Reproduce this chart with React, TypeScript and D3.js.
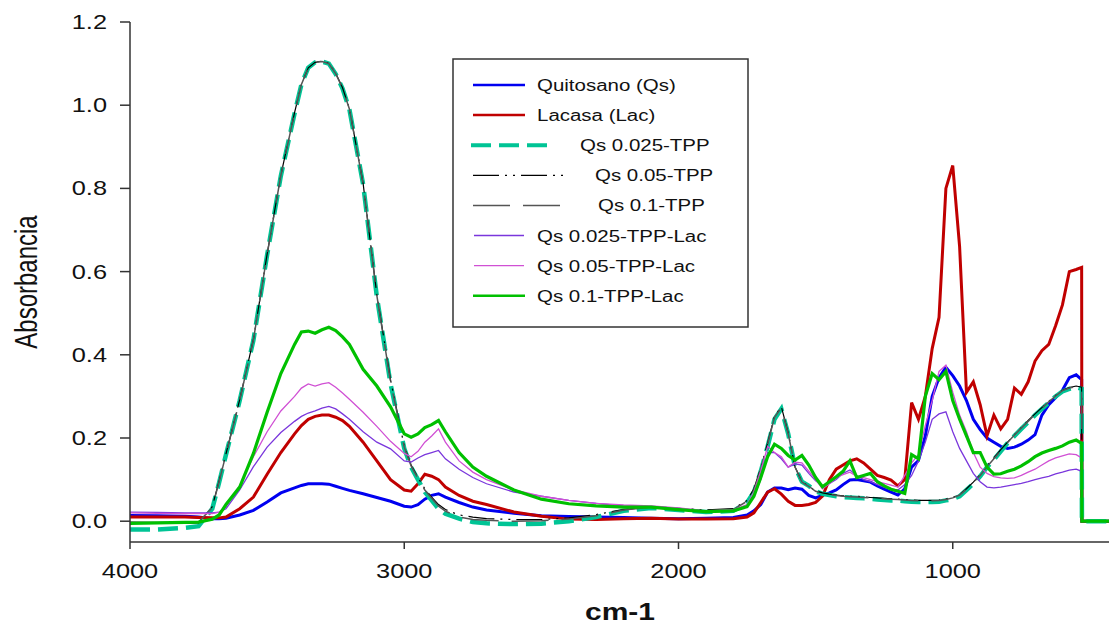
import React from "react";
import * as d3 from "d3";

const wavenumbers = [4000, 3900, 3800, 3750, 3700, 3675, 3650, 3600, 3550, 3500, 3450, 3400, 3375, 3350, 3325, 3300, 3275, 3250, 3225, 3200, 3150, 3100, 3050, 3000, 2975, 2950, 2925, 2900, 2875, 2850, 2800, 2750, 2700, 2600, 2500, 2400, 2300, 2200, 2100, 2000, 1900, 1800, 1750, 1725, 1700, 1675, 1650, 1625, 1600, 1575, 1550, 1525, 1500, 1475, 1450, 1425, 1400, 1375, 1350, 1325, 1300, 1275, 1250, 1225, 1200, 1175, 1150, 1125, 1100, 1075, 1050, 1025, 1000, 975, 950, 925, 900, 875, 850, 825, 800, 775, 750, 725, 700, 675, 650, 625, 600, 575, 550, 530, 529, 400];

const quitosano = [0.014, 0.013, 0.012, 0.01, 0.006, 0.006, 0.007, 0.015, 0.026, 0.046, 0.068, 0.08, 0.086, 0.09, 0.09, 0.09, 0.089, 0.084, 0.079, 0.074, 0.066, 0.057, 0.048, 0.036, 0.034, 0.04, 0.053, 0.062, 0.066, 0.058, 0.045, 0.034, 0.027, 0.019, 0.013, 0.011, 0.01, 0.009, 0.007, 0.006, 0.007, 0.009, 0.015, 0.025, 0.04, 0.07, 0.08, 0.08, 0.076, 0.08, 0.077, 0.062, 0.056, 0.062, 0.068, 0.075, 0.088, 0.099, 0.1, 0.097, 0.094, 0.085, 0.077, 0.07, 0.063, 0.078, 0.13, 0.146, 0.205, 0.3, 0.345, 0.37, 0.35, 0.325, 0.29, 0.245, 0.22, 0.2, 0.19, 0.18, 0.175, 0.178, 0.185, 0.195, 0.208, 0.255, 0.28, 0.297, 0.315, 0.345, 0.352, 0.34, 0, 0];

const lacasa = [0.01, 0.01, 0.01, 0.009, 0.008, 0.008, 0.01, 0.03, 0.058, 0.113, 0.165, 0.21, 0.23, 0.245, 0.252, 0.255, 0.255, 0.25, 0.242, 0.228, 0.19, 0.145, 0.1, 0.075, 0.072, 0.09, 0.113, 0.108, 0.1, 0.082, 0.062, 0.048, 0.04, 0.022, 0.012, 0.005, 0.004, 0.006, 0.007, 0.005, 0.005, 0.006, 0.01, 0.02, 0.045, 0.07, 0.078, 0.065, 0.048, 0.038, 0.038, 0.04, 0.045, 0.06, 0.1, 0.125, 0.135, 0.145, 0.15, 0.14, 0.125, 0.11, 0.105, 0.099, 0.085, 0.1, 0.285, 0.245, 0.3, 0.415, 0.49, 0.8, 0.855, 0.66, 0.31, 0.335, 0.28, 0.205, 0.255, 0.222, 0.245, 0.32, 0.305, 0.335, 0.385, 0.41, 0.425, 0.47, 0.52, 0.6, 0.605, 0.61, 0, 0];

const qs025tpp = [-0.02, -0.02, -0.016, -0.012, 0.03, 0.093, 0.16, 0.29, 0.435, 0.64, 0.83, 0.98, 1.05, 1.09, 1.103, 1.105, 1.1, 1.075, 1.04, 0.99, 0.81, 0.54, 0.33, 0.175, 0.13, 0.1, 0.07, 0.05, 0.03, 0.018, 0.006, -0.002, -0.005, -0.007, -0.006, 0.0, 0.01, 0.025, 0.032, 0.027, 0.022, 0.025, 0.045, 0.07, 0.12, 0.18, 0.245, 0.27, 0.21, 0.13, 0.095, 0.085, 0.072, 0.066, 0.063, 0.06, 0.058, 0.057, 0.056, 0.055, 0.054, 0.052, 0.051, 0.05, 0.05, 0.048, 0.047, 0.046, 0.046, 0.046, 0.047, 0.05, 0.053, 0.06, 0.075, 0.09, 0.108, 0.13, 0.148, 0.168, 0.188, 0.205, 0.222, 0.238, 0.255, 0.27, 0.285, 0.3, 0.312, 0.318, 0.322, 0.318, 0, 0];

const qs05tpp = [-0.004, -0.004, -0.005, -0.004, 0.035, 0.097, 0.162, 0.292, 0.437, 0.642, 0.832, 0.982, 1.05, 1.09, 1.103, 1.106, 1.101, 1.077, 1.042, 0.992, 0.812, 0.545, 0.34, 0.18, 0.135, 0.105, 0.078, 0.058, 0.04, 0.028, 0.015, 0.01, 0.006, 0.004, 0.004, 0.008, 0.016, 0.028, 0.035, 0.031, 0.027, 0.03, 0.05, 0.078, 0.128, 0.188, 0.252, 0.275, 0.212, 0.13, 0.095, 0.084, 0.073, 0.068, 0.065, 0.063, 0.061, 0.06, 0.06, 0.058, 0.057, 0.056, 0.055, 0.054, 0.053, 0.052, 0.051, 0.05, 0.05, 0.05, 0.051, 0.053, 0.057, 0.064, 0.078, 0.094, 0.112, 0.133, 0.152, 0.172, 0.19, 0.208, 0.225, 0.242, 0.258, 0.273, 0.288, 0.302, 0.315, 0.321, 0.325, 0.322, 0, 0];

const qs1tpp = [-0.002, -0.003, -0.003, -0.002, 0.033, 0.095, 0.161, 0.291, 0.436, 0.641, 0.831, 0.981, 1.05, 1.09, 1.103, 1.105, 1.1, 1.076, 1.041, 0.991, 0.811, 0.543, 0.335, 0.178, 0.133, 0.103, 0.075, 0.055, 0.036, 0.024, 0.01, 0.004, 0.002, 0.0, 0.001, 0.005, 0.013, 0.027, 0.034, 0.029, 0.025, 0.028, 0.048, 0.075, 0.125, 0.185, 0.25, 0.273, 0.21, 0.13, 0.094, 0.084, 0.072, 0.067, 0.064, 0.062, 0.06, 0.059, 0.058, 0.057, 0.056, 0.055, 0.054, 0.053, 0.052, 0.051, 0.05, 0.049, 0.049, 0.049, 0.05, 0.052, 0.056, 0.063, 0.077, 0.093, 0.11, 0.131, 0.15, 0.17, 0.189, 0.207, 0.224, 0.24, 0.257, 0.272, 0.287, 0.301, 0.314, 0.32, 0.324, 0.32, 0, 0];

const qs025tppLac = [0.022, 0.021, 0.02, 0.02, 0.02, 0.022, 0.03, 0.075, 0.131, 0.178, 0.213, 0.24, 0.252, 0.26, 0.265, 0.272, 0.276, 0.27, 0.258, 0.245, 0.215, 0.19, 0.174, 0.145, 0.142, 0.152, 0.16, 0.165, 0.17, 0.15, 0.125, 0.105, 0.09, 0.07, 0.06, 0.05, 0.043, 0.037, 0.035, 0.03, 0.024, 0.026, 0.035, 0.06, 0.1, 0.165, 0.165, 0.15, 0.13, 0.138, 0.135, 0.115, 0.097, 0.085, 0.09, 0.1, 0.115, 0.123, 0.11, 0.1, 0.095, 0.088, 0.082, 0.077, 0.075, 0.088, 0.11, 0.145, 0.19, 0.245, 0.258, 0.263, 0.215, 0.175, 0.145, 0.115, 0.095, 0.082, 0.08, 0.082, 0.085, 0.088, 0.091, 0.095, 0.1, 0.104, 0.108, 0.114, 0.118, 0.123, 0.125, 0.12, 0, 0];

const qs05tppLac = [0.02, 0.019, 0.018, 0.018, 0.018, 0.022, 0.035, 0.085, 0.155, 0.215, 0.265, 0.3, 0.32, 0.33, 0.325, 0.33, 0.333, 0.322, 0.308, 0.293, 0.262, 0.228, 0.192, 0.163, 0.155, 0.168, 0.19, 0.205, 0.222, 0.19, 0.145, 0.118, 0.1, 0.075, 0.06, 0.05, 0.043, 0.039, 0.037, 0.032, 0.025, 0.027, 0.04, 0.07, 0.12, 0.18, 0.165, 0.155, 0.13, 0.142, 0.14, 0.12, 0.1, 0.078, 0.09, 0.105, 0.112, 0.118, 0.108, 0.105, 0.1, 0.095, 0.091, 0.087, 0.082, 0.11, 0.14, 0.16, 0.23, 0.29, 0.36, 0.375, 0.31, 0.255, 0.215, 0.165, 0.13, 0.115, 0.107, 0.104, 0.103, 0.104, 0.11, 0.118, 0.125, 0.135, 0.145, 0.152, 0.157, 0.162, 0.16, 0.152, 0, 0];

const qs1tppLac = [-0.005, -0.004, -0.003, -0.002, 0.005, 0.015, 0.04, 0.082, 0.163, 0.262, 0.355, 0.425, 0.455, 0.457, 0.452, 0.46, 0.466, 0.458, 0.443, 0.425, 0.365, 0.325, 0.275, 0.21, 0.202, 0.21, 0.225, 0.232, 0.242, 0.215, 0.165, 0.13, 0.108, 0.075, 0.053, 0.042, 0.037, 0.034, 0.034, 0.028, 0.023, 0.025, 0.035, 0.06, 0.105, 0.155, 0.185, 0.175, 0.158, 0.147, 0.158, 0.135, 0.105, 0.083, 0.095, 0.107, 0.12, 0.145, 0.105, 0.11, 0.115, 0.095, 0.085, 0.077, 0.072, 0.067, 0.16, 0.15, 0.3, 0.355, 0.34, 0.36, 0.29, 0.245, 0.205, 0.165, 0.165, 0.13, 0.113, 0.114, 0.12, 0.125, 0.133, 0.143, 0.155, 0.164, 0.17, 0.175, 0.181, 0.19, 0.195, 0.187, 0, 0];

const xTicks = [4000, 3000, 2000, 1000];
const yTicks = [0, 0.2, 0.4, 0.6, 0.8, 1.0, 1.2];

const seriesNames = ["Quitosano (Qs)", "Lacasa (Lac)", "Qs 0.025-TPP", "Qs 0.05-TPP", "Qs 0.1-TPP", "Qs 0.025-TPP-Lac", "Qs 0.05-TPP-Lac", "Qs 0.1-TPP-Lac"];
const seriesValues = [quitosano, lacasa, qs025tpp, qs05tpp, qs1tpp, qs025tppLac, qs05tppLac, qs1tppLac];

const styles = [
  { color: "#0000f0", width: 3, dash: "" },
  { color: "#c00000", width: 3, dash: "" },
  { color: "#00c495", width: 4.5, dash: "20,8" },
  { color: "#000000", width: 1.2, dash: "26,6,2,6,2,6" },
  { color: "#555555", width: 1.5, dash: "37,13" },
  { color: "#7a36dc", width: 1.3, dash: "" },
  { color: "#d050d4", width: 1.3, dash: "" },
  { color: "#00c000", width: 3.2, dash: "" },
];

const legendLayout = [
  { x1: 473, x2: 525, tx: 537 },
  { x1: 473, x2: 525, tx: 537 },
  { x1: 471, x2: 550, tx: 580 },
  { x1: 473, x2: 565, tx: 595 },
  { x1: 473, x2: 560, tx: 598 },
  { x1: 474, x2: 524, tx: 537 },
  { x1: 474, x2: 524, tx: 537 },
  { x1: 473, x2: 525, tx: 537 },
];

const FONT = "'Liberation Sans', Arial, sans-serif";
const SX = 1.3;

export default function App() {
  const x = d3.scaleLinear().domain([4000, 400]).range([130, 1117.3]);
  const y = d3.scaleLinear().domain([-0.05, 1.2]).range([542, 22]);
  const line = d3
    .line<number>()
    .x((_, i) => x(wavenumbers[i]))
    .y((v) => y(v));

  const axisColor = "#333";

  return (
    <svg width={1109} height={626} style={{ position: "absolute", left: 0, top: 0, background: "#fff" }}>
      <rect x={0} y={0} width={1109} height={626} fill="#fff" />
      {seriesValues.map((vals, k) => (
        <path
          key={k}
          d={line(vals) || ""}
          fill="none"
          stroke={styles[k].color}
          strokeWidth={styles[k].width}
          strokeDasharray={styles[k].dash}
          strokeLinejoin="miter"
        />
      ))}
      <line x1={x(4000)} x2={1109} y1={542} y2={542} stroke={axisColor} strokeWidth={1.5} />
      <line x1={130} x2={130} y1={y(1.2)} y2={542} stroke={axisColor} strokeWidth={1.5} />
      {xTicks.map((t) => (
        <g key={t}>
          <line x1={x(t)} x2={x(t)} y1={542} y2={549} stroke={axisColor} strokeWidth={1.5} />
          <text
            transform={`translate(${x(t)},578) scale(${SX},1)`}
            textAnchor="middle"
            fontFamily={FONT}
            fontSize={19.5}
            fill="#111"
          >
            {t}
          </text>
        </g>
      ))}
      {yTicks.map((t) => (
        <g key={t}>
          <line x1={120} x2={130} y1={y(t)} y2={y(t)} stroke={axisColor} strokeWidth={1.5} />
          <text
            transform={`translate(107,${y(t) + 7}) scale(${SX},1)`}
            textAnchor="end"
            fontFamily={FONT}
            fontSize={19.5}
            fill="#111"
          >
            {t.toFixed(1)}
          </text>
        </g>
      ))}
      <text
        transform={`translate(620,620) scale(1.25,1)`}
        textAnchor="middle"
        fontFamily={FONT}
        fontSize={24}
        fontWeight="bold"
        fill="#111"
      >
        cm-1
      </text>
      <text
        transform={`translate(26,282) scale(${SX},1) rotate(-90)`}
        textAnchor="middle"
        dominantBaseline="central"
        fontFamily={FONT}
        fontSize={24}
        fill="#111"
      >
        Absorbancia
      </text>
      <rect x={453} y={59} width={295} height={268} fill="#fff" stroke="#333" strokeWidth={1.5} />
      {seriesNames.map((name, k) => {
        const cy = 85 + k * 30.1;
        const L = legendLayout[k];
        return (
          <g key={name}>
            <line
              x1={L.x1}
              x2={L.x2}
              y1={cy}
              y2={cy}
              stroke={styles[k].color}
              strokeWidth={k === 2 ? 4 : Math.min(styles[k].width, 2.5)}
              strokeDasharray={styles[k].dash}
            />
            <text
              transform={`translate(${L.tx},${cy + 6}) scale(1.28,1)`}
              fontFamily={FONT}
              fontSize={16}
              fill="#111"
            >
              {name}
            </text>
          </g>
        );
      })}
    </svg>
  );
}
